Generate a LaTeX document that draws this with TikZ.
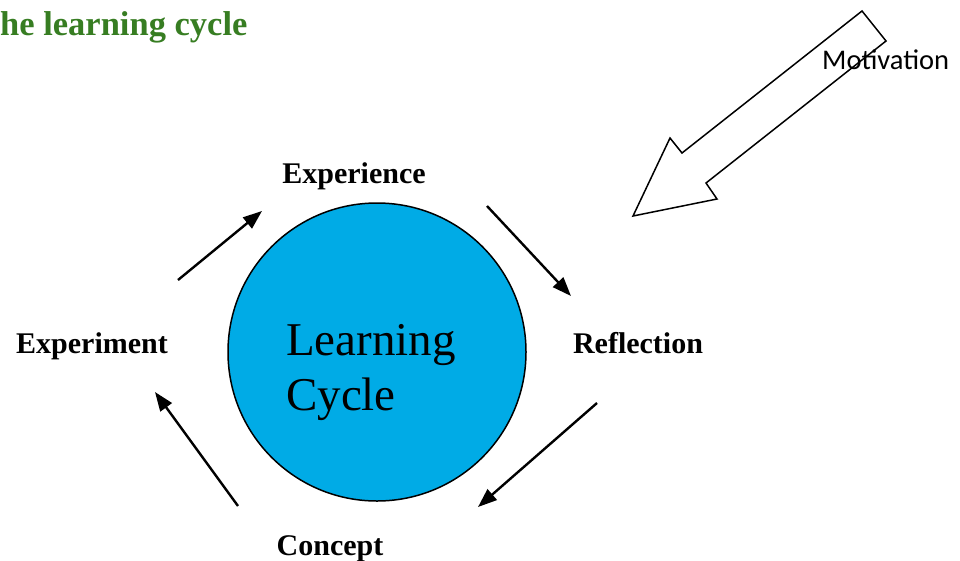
\documentclass[tikz,border=0pt]{standalone}
\usepackage{fontspec}
\setmainfont{Liberation Serif}
\newfontfamily\motfont{Carlito}
\usetikzlibrary{arrows.meta}
\definecolor{titlegreen}{RGB}{55,125,34}
\definecolor{cyclefill}{RGB}{0,171,230}
\begin{document}
\begin{tikzpicture}[x=1pt,y=-1pt,
  label/.style={inner sep=0pt,anchor=base,font=\fontsize{30}{34}\selectfont\bfseries},
  cyclearrow/.style={line width=2.4pt,-{Triangle[length=19pt,width=14pt]}}]
\useasboundingbox (0,0) rectangle (960,560);
% title
\node[anchor=base west,inner sep=0pt,text=titlegreen,font=\fontsize{34.5}{38}\selectfont\bfseries] (title) at (0,35) {he learning cycle};
% motivation arrow
\draw[line width=1.5pt,fill=white,line join=miter] (862,11) -- (886,41) -- (706,183) -- (717,199) -- (633,216) -- (670,138) -- (682,153) -- cycle;
\node[anchor=base west,inner sep=0pt,font=\motfont\fontsize{28.5}{32}\selectfont] (mot) at (822,69) {Motivation};
% circle
\node[circle,draw,line width=1.5pt,fill=cyclefill,minimum size=298pt,inner sep=0pt] (circ) at (377,352) {};
\node[anchor=base west,inner sep=0pt,align=left,font=\fontsize{47}{55}\selectfont] (lc) at (286,410) {Learning\\Cycle};
% labels
\node[label] (exp) at (354,183) {Experience};
\node[label] (refl) at (638,353) {Reflection};
\node[label] (conc) at (330,555) {Concept};
\node[label] (expt) at (92,353) {Experiment};
% arrow endpoints
\coordinate (a1s) at (178,280); \coordinate (a1e) at (262,211);
\coordinate (a2s) at (487,206); \coordinate (a2e) at (571,296);
\coordinate (a3s) at (597,403); \coordinate (a3e) at (478,507);
\coordinate (a4s) at (238,506); \coordinate (a4e) at (155,392);
\draw[cyclearrow] (a1s) -- (a1e);
\draw[cyclearrow] (a2s) -- (a2e);
\draw[cyclearrow] (a3s) -- (a3e);
\draw[cyclearrow] (a4s) -- (a4e);
\end{tikzpicture}
\end{document}
